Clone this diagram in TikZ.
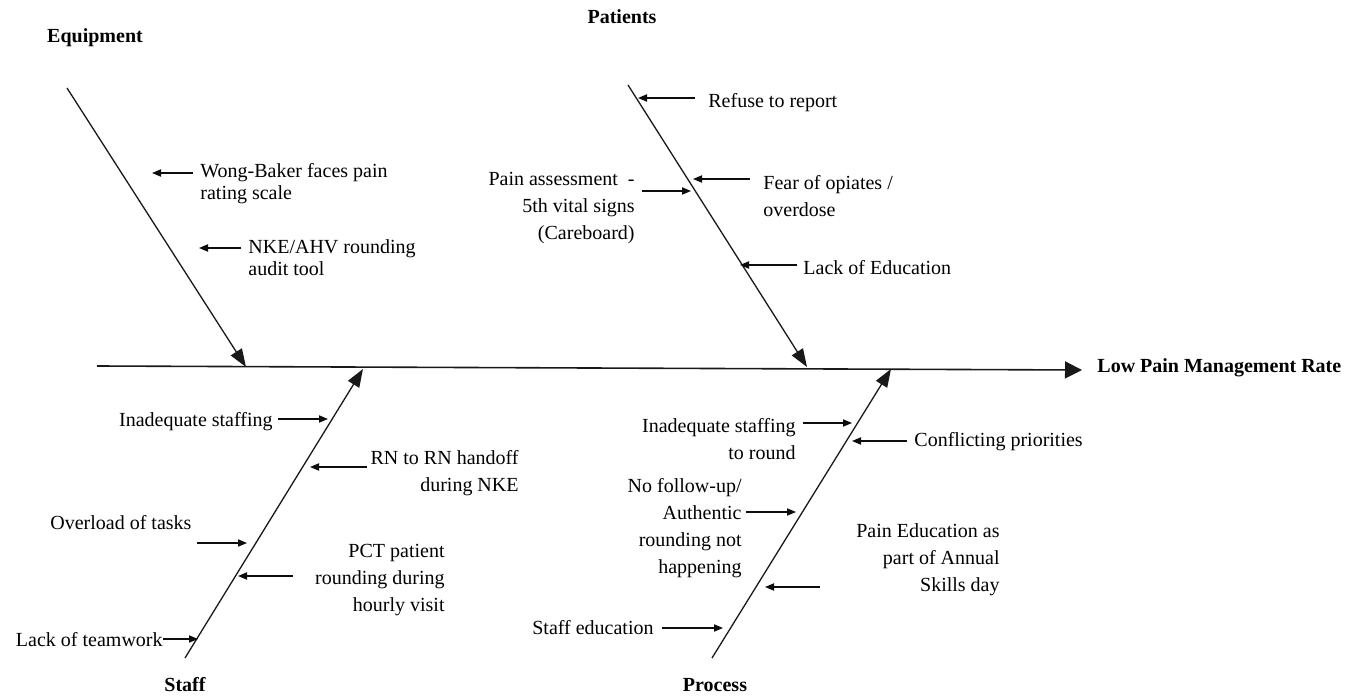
\documentclass[tikz,border=0pt]{standalone}
\usepackage{fontspec}
\setmainfont{Liberation Serif}
\usetikzlibrary{arrows.meta, positioning}

\begin{document}
\begin{tikzpicture}[x=0.5pt, y=-0.5pt,
  bone/.style={black!90, line width=0.65pt, -{Triangle[length=9pt, width=6.5pt]}},
  cause/.style={black!95, line width=0.6pt, -{Triangle[length=4.5pt, width=3.6pt]}},
  tight/.style={font=\fontsize{10}{11}\selectfont, inner sep=0pt, align=left},
  loose/.style={font=\fontsize{10}{13.5}\selectfont, inner sep=0pt},
  category/.style={font=\bfseries, inner sep=0pt}]
\useasboundingbox (0,0) rectangle (1360,700);

% spine
\coordinate (tail) at (97,366);
\coordinate (head) at (1082,370);
\draw [black!90, line width=0.8pt, -{Triangle[length=8.5pt, width=8.5pt]}] (tail) -- (head);
\node [category, anchor=west] (effect) at (1097,368) {Low Pain Management Rate};

% bones
\coordinate (eqtop) at (67,88);    \coordinate (eqtip) at (246,367);
\coordinate (pttop) at (628,85);   \coordinate (pttip) at (807,367);
\coordinate (stbot) at (185,658);  \coordinate (sttip) at (363,369);
\coordinate (prbot) at (712,658);  \coordinate (prtip) at (891,369);
\draw [bone] (eqtop) -- (eqtip);
\draw [bone] (pttop) -- (pttip);
\draw [bone] (stbot) -- (sttip);
\draw [bone] (prbot) -- (prtip);
\node [category] (equipment) at (95,38)  {Equipment};
\node [category] (patients)  at (622,17) {Patients};
\node [category] (staff)     at (185,685) {Staff};
\node [category] (process)   at (715,685) {Process};

% equipment
\node [tight, anchor=west] (wong) at (200,184) {Wong-Baker faces pain\\rating scale};
\coordinate (wongA) at (193,173);  \coordinate (wongB) at (152,173);
\draw [cause] (wongA) -- (wongB);
\node [tight, anchor=west] (audit) at (248,258) {NKE/AHV rounding\\audit tool};
\coordinate (auditA) at (241,248); \coordinate (auditB) at (199,248);
\draw [cause] (auditA) -- (auditB);

% patients
\node [loose, anchor=west] (refuse) at (708,103) {Refuse to report};
\coordinate (refuseA) at (695,98); \coordinate (refuseB) at (638,98);
\draw [cause] (refuseA) -- (refuseB);
\node [loose, align=left, anchor=west] (fear) at (763,196.5) {Fear of opiates /\\overdose};
\coordinate (fearA) at (750,179);  \coordinate (fearB) at (693,179);
\draw [cause] (fearA) -- (fearB);
\node [loose, anchor=west] (lacked) at (803,268) {Lack of Education};
\coordinate (lackedA) at (797,265); \coordinate (lackedB) at (740,265);
\draw [cause] (lackedA) -- (lackedB);
\node [loose, align=right, anchor=east] (assess) at (635,208.5) {Pain assessment~ -\\5th vital signs\\(Careboard)};
\coordinate (assessA) at (642,191); \coordinate (assessB) at (691,191);
\draw [cause] (assessA) -- (assessB);

% staff
\node [loose, anchor=east] (inadeq) at (273,422) {Inadequate staffing};
\coordinate (inadeqA) at (278,419); \coordinate (inadeqB) at (328,419);
\draw [cause] (inadeqA) -- (inadeqB);
\node [loose, align=right, anchor=east] (handoff) at (519,473.5) {RN to RN handoff\\during NKE};
\coordinate (handoffA) at (367,467); \coordinate (handoffB) at (310,467);
\draw [cause] (handoffA) -- (handoffB);
\node [loose, anchor=west] (overload) at (50,523) {Overload of tasks};
\coordinate (overloadA) at (197,543); \coordinate (overloadB) at (247,543);
\draw [cause] (overloadA) -- (overloadB);
\node [loose, align=right, anchor=east] (pct) at (445,580) {PCT patient\\rounding during\\hourly visit};
\coordinate (pctA) at (293,576); \coordinate (pctB) at (238,576);
\draw [cause] (pctA) -- (pctB);
\node [loose, anchor=east] (teamwork) at (163,640) {Lack of teamwork};
\coordinate (teamworkB) at (198,639);
\draw [cause] (teamwork.east |- teamworkB) -- (teamworkB);

% process
\node [loose, align=right, anchor=east] (toround) at (796,439.5) {Inadequate staffing\\to round};
\coordinate (toroundA) at (803,423); \coordinate (toroundB) at (852,423);
\draw [cause] (toroundA) -- (toroundB);
\node [loose, anchor=west] (conflict) at (914,442) {Conflicting priorities};
\coordinate (conflictA) at (907,441); \coordinate (conflictB) at (852,441);
\draw [cause] (conflictA) -- (conflictB);
\node [loose, align=right, anchor=east] (followup) at (742,528) {No follow-up/\\Authentic\\rounding not\\happening};
\coordinate (followupA) at (746,512); \coordinate (followupB) at (796,512);
\draw [cause] (followupA) -- (followupB);
\node [loose, align=right, anchor=east] (annual) at (1000,560) {Pain Education as\\part of Annual\\Skills day};
\coordinate (annualA) at (820,587); \coordinate (annualB) at (765,587);
\draw [cause] (annualA) -- (annualB);
\node [loose, anchor=east] (steduc) at (654,628) {Staff education};
\coordinate (steducA) at (662,628); \coordinate (steducB) at (723,628);
\draw [cause] (steducA) -- (steducB);
\end{tikzpicture}
\end{document}
